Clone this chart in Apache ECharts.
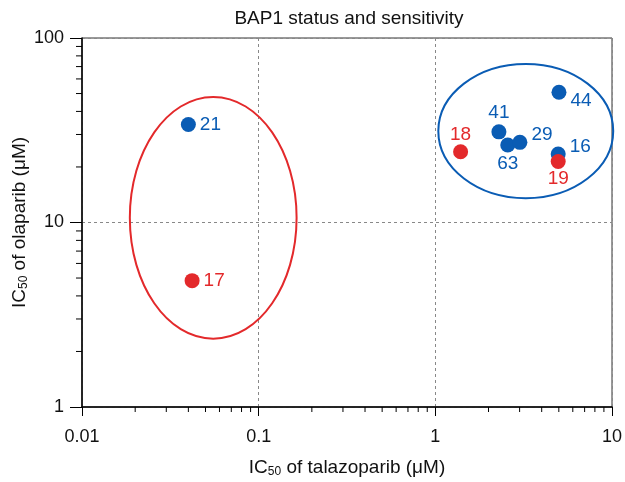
<!DOCTYPE html>
<html lang="en">
<head>
    <meta charset="UTF-8">
    <script src="https://cdnjs.cloudflare.com/ajax/libs/echarts/6.0.0/echarts.min.js"></script>
    <title>BAP1 status and sensitivity</title>
</head>
<body style="margin:0">

<div id="chart" style="width: 625px;height: 482px"></div>

<script type="text/javascript">
    // cell lines, IC50 values
    var cellLines = ['21', '17', '18', '41', '63', '29', '44', '16', '19'];
    var talazoparib = [0.040, 0.042, 1.39, 2.29, 2.57, 3.01, 5.01, 4.96, 4.96];
    var olaparib = [34.0, 4.84, 24.2, 31.0, 26.3, 27.2, 50.8, 23.5, 21.4];
    var groupOf = ['blue', 'red', 'red', 'blue', 'blue', 'blue', 'blue', 'blue', 'red'];

    // the two ellipses: centre and half-size in decades
    var ellipseGroup = ['red', 'blue'];
    var ellipseCx = [0.0553, 3.25];
    var ellipseCy = [10.6, 31.3];
    var ellipseRx = [0.472, 0.495];
    var ellipseRy = [0.655, 0.364];

    var xTicks = [0.01, 0.1, 1, 10];
    var yTicks = [1, 10, 100];

    var colors = {blue: '#0a5cb4', red: '#e3292b'};
    var font = 'Liberation Sans, Arial, sans-serif';

    // where each number sits next to its dot
    var labelPlace = {
        '21': {position: 'right', distance: 4},
        '17': {position: 'right', distance: 4},
        '18': {position: 'top', distance: 0},
        '41': {position: 'top', distance: 2},
        '63': {position: 'bottom', distance: 2},
        '29': {position: 'right', distance: 4, offset: [0, -8]},
        '44': {position: 'right', distance: 4, offset: [0, 8]},
        '16': {position: 'right', distance: 4, offset: [0, -7]},
        '19': {position: 'bottom', distance: 0}
    };

    function pointsFor(g) {
        var out = [];
        for (var i = 0; i < cellLines.length; i++) {
            if (groupOf[i] !== g) continue;
            var lp = labelPlace[cellLines[i]];
            out.push({
                name: cellLines[i],
                value: [talazoparib[i], olaparib[i]],
                label: {
                    show: true,
                    formatter: cellLines[i],
                    position: lp.position,
                    distance: lp.distance,
                    offset: lp.offset || [0, 0],
                    color: colors[g],
                    fontSize: 19,
                    fontFamily: font
                }
            });
        }
        return out;
    }

    // minor tick positions (2..9 in each decade)
    var xMinor = [], yMinor = [];
    for (var d = 0; d < 3; d++) {
        for (var k = 2; k < 10; k++) {
            xMinor.push([k * Math.pow(10, d - 2), 1]);
            if (d < 2) yMinor.push([0.01, k * Math.pow(10, d)]);
        }
    }

    var ellipseData = [];
    for (var e = 0; e < ellipseGroup.length; e++) {
        ellipseData.push([ellipseCx[e], ellipseCy[e], ellipseRx[e], ellipseRy[e], e]);
    }

    var nameRich = {
        a: {fontSize: 19, fontFamily: font, color: '#111'},
        sub: {fontSize: 12, fontFamily: font, color: '#111', verticalAlign: 'bottom', padding: [9, 0, 0, 0]}
    };

    function fmt(v) { return String(+v.toPrecision(3)); }

    var myChart = echarts.init(document.getElementById('chart'));
    var option = {
        animation: false,
        title: {
            text: 'BAP1 status and sensitivity',
            left: 349,
            top: 9,
            padding: 0,
            textAlign: 'center',
            textStyle: {fontSize: 19, fontWeight: 'normal', color: '#111', fontFamily: font}
        },
        grid: {
            left: 82, right: 13, top: 38, bottom: 75,
            outerBoundsMode: 'none',
            show: true, borderColor: '#333', borderWidth: 1
        },
        xAxis: {
            type: 'log', logBase: 10, min: xTicks[0], max: xTicks[xTicks.length - 1],
            axisLine: {lineStyle: {color: '#000', width: 1.5}},
            axisTick: {length: 9, lineStyle: {color: '#000', width: 1}},
            axisLabel: {fontSize: 18, color: '#111', fontFamily: font, margin: 21, formatter: fmt},
            splitLine: {show: true, lineStyle: {color: '#888', type: [3, 3], width: 1}},
            name: '{a|IC}{sub|50}{a| of talazoparib (μM)}',
            nameLocation: 'middle', nameGap: 50,
            nameMoveOverlap: false,
            nameTextStyle: {rich: nameRich}
        },
        yAxis: {
            type: 'log', logBase: 10, min: yTicks[0], max: yTicks[yTicks.length - 1],
            axisLine: {lineStyle: {color: '#000', width: 1.5}},
            axisTick: {length: 12, lineStyle: {color: '#000', width: 1}},
            axisLabel: {fontSize: 18, color: '#111', fontFamily: font, margin: 18, formatter: fmt},
            splitLine: {show: true, lineStyle: {color: '#888', type: [3, 3], width: 1}},
            name: '{a|IC}{sub|50}{a| of olaparib (μM)}',
            nameLocation: 'middle', nameGap: 52,
            nameMoveOverlap: false,
            nameTextStyle: {rich: nameRich}
        },
        series: [
            {
                type: 'custom', silent: true, clip: false, z: 1,
                data: xMinor,
                encode: {x: 0, y: 1},
                renderItem: function (params, api) {
                    var p = api.coord([api.value(0), api.value(1)]);
                    return {type: 'line', shape: {x1: p[0], y1: p[1], x2: p[0], y2: p[1] + 5},
                        style: {stroke: '#000', lineWidth: 1}};
                }
            },
            {
                type: 'custom', silent: true, clip: false, z: 1,
                data: yMinor,
                encode: {x: 0, y: 1},
                renderItem: function (params, api) {
                    var p = api.coord([api.value(0), api.value(1)]);
                    return {type: 'line', shape: {x1: p[0], y1: p[1], x2: p[0] - 6, y2: p[1]},
                        style: {stroke: '#000', lineWidth: 1}};
                }
            },
            {
                type: 'custom', silent: true, clip: false, z: 2,
                data: ellipseData,
                encode: {x: 0, y: 1},
                renderItem: function (params, api) {
                    var cx = api.value(0), cy = api.value(1);
                    var c = api.coord([cx, cy]);
                    var r = api.coord([cx * Math.pow(10, api.value(2)), cy * Math.pow(10, api.value(3))]);
                    return {
                        type: 'ellipse',
                        shape: {cx: c[0], cy: c[1], rx: Math.abs(r[0] - c[0]), ry: Math.abs(r[1] - c[1])},
                        style: {fill: null, stroke: colors[ellipseGroup[api.value(4)]], lineWidth: 2}
                    };
                }
            },
            {
                type: 'scatter', z: 3, symbolSize: 15,
                itemStyle: {color: colors.blue, opacity: 1},
                data: pointsFor('blue')
            },
            {
                type: 'scatter', z: 4, symbolSize: 15,
                itemStyle: {color: colors.red, opacity: 1},
                data: pointsFor('red')
            }
        ]
    };
    myChart.setOption(option);
</script>
</body>
</html>
